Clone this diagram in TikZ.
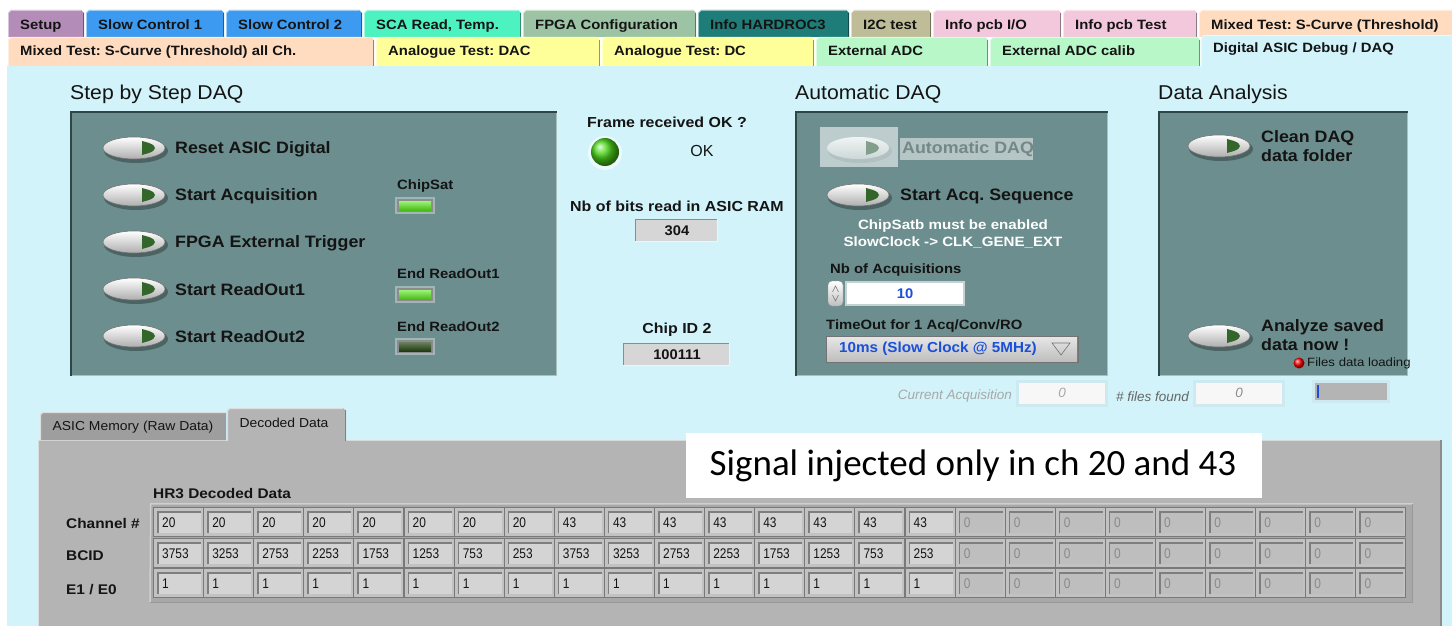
\documentclass[tikz,border=0pt]{standalone}
\usepackage{fontspec}
\setmainfont{Liberation Sans}
\newfontfamily\calib{Carlito}
\usetikzlibrary{shapes.geometric}
\frenchspacing
\definecolor{bgcyan}{HTML}{D2F3FA}
\definecolor{tabsetup}{HTML}{B48CB8}
\definecolor{tabslow}{HTML}{3C9BF0}
\definecolor{tabsca}{HTML}{4CF2C0}
\definecolor{tabfpga}{HTML}{9CC4A4}
\definecolor{tabinfo}{HTML}{1E7D78}
\definecolor{tabitc}{HTML}{BFBC98}
\definecolor{tabpcb}{HTML}{F4C8DC}
\definecolor{tabmixed}{HTML}{FFDCC0}
\definecolor{tabana}{HTML}{FFFF99}
\definecolor{tabadc}{HTML}{B8F8C8}
\definecolor{panelc}{HTML}{6C8E8E}
\definecolor{paneldark}{HTML}{2F4646}
\definecolor{panellight}{HTML}{A9BFBF}
\definecolor{txtdark}{HTML}{141414}
\definecolor{trigreen}{HTML}{33662A}
\definecolor{ledon}{HTML}{5CEB1E}
\definecolor{ledoff}{HTML}{2A4A18}
\definecolor{ledball}{HTML}{4CD81A}
\definecolor{boxgray}{HTML}{D6D6D6}
\definecolor{tabgray}{HTML}{B4B4B4}
\definecolor{framegray}{HTML}{A8A8A8}
\definecolor{cellfill}{HTML}{D4D4D4}
\definecolor{cellzero}{HTML}{BEBEBE}
\definecolor{celldark}{HTML}{7E7E7E}
\definecolor{zerotxt}{HTML}{8A8A8A}
\definecolor{blueval}{HTML}{1A4FD8}
\definecolor{greytxt}{HTML}{A8A8A8}
\newcommand\uitab[8]{% x1 x2 y1 y2 color name baseline text
  \fill[#5] (#1,#4) -- (#1,#3+3) -- (#1+3,#3) -- (#2-3,#3) -- (#2,#3+3) -- (#2,#4) -- cycle;
  \draw[#5!60!black, line width=0.8pt] (#2-0.5,#3+3) -- (#2-0.5,#4);
  \draw[white, opacity=0.5, line width=0.8pt] (#1+0.5,#4) -- (#1+0.5,#3+3) -- (#1+3,#3+0.5) -- (#2-3,#3+0.5);
  \node[tabtext] (#6) at (#1+12,#7) {#8};
}
\newcommand\insetbox[5]{%
  \fill[#5] (#1,#2) rectangle (#3,#4);
  \draw[black!45, line width=1.2pt] (#1+0.6,#4) -- (#1+0.6,#2+0.6) -- (#3,#2+0.6);
  \draw[white!70!#5, line width=1pt] (#1,#4-0.5) -- (#3-0.5,#4-0.5) -- (#3-0.5,#2);
}
\newcommand\uipanel[4]{%
  \fill[panelc] (#1,#2) rectangle (#3,#4);
  \draw[panellight, line width=1.5pt] (#1,#4-0.75) -- (#3-0.75,#4-0.75) -- (#3-0.75,#2);
  \draw[paneldark, line width=2pt] (#1+1,#4) -- (#1+1,#2+1) -- (#3,#2+1);
}
\tikzset{
  tabtext/.style={font=\fontsize{13.5}{15}\selectfont\bfseries, text=txtdark, inner sep=0pt, anchor=base west, xscale=1.1},
  title/.style={font=\fontsize{20}{22}\selectfont, text=txtdark, anchor=west, inner sep=0pt, xscale=1.06},
  btnlabel/.style={font=\fontsize{16.5}{19.5}\selectfont\bfseries, text=txtdark, anchor=west, inner sep=0pt, align=left, xscale=1.08},
  ledlabel/.style={font=\fontsize{13.5}{15}\selectfont\bfseries, text=txtdark, anchor=west, inner sep=0pt, xscale=1.1},
  midlabel/.style={font=\fontsize{14.5}{16}\selectfont\bfseries, text=txtdark, inner sep=0pt, xscale=1.1},
  valtext/.style={font=\fontsize{14}{16}\selectfont\bfseries, text=txtdark, inner sep=0pt, xscale=1.05},
  rowlabel/.style={font=\fontsize{14}{15}\selectfont\bfseries, text=txtdark, anchor=west, inner sep=0pt, xscale=1.1},
  celltext/.style={font=\fontsize{14}{16}\selectfont, anchor=west, inner sep=0pt, xscale=0.85},
  greyital/.style={font=\fontsize{13.5}{15}\selectfont\itshape, text=greytxt, inner sep=0pt},
  btnpic/.pic={
    \fill[black, opacity=0.3] (2,3) ellipse [x radius=32pt, y radius=12pt];
    \shade[top color=white, bottom color=black!32, draw=black!55, line width=0.6pt] (0,0) ellipse [x radius=31pt, y radius=11pt];
    \fill[trigreen] (8,-7) -- (8,7) -- (15,5) .. controls (23,2) and (23,-2) .. (15,-5) -- cycle;
  },
  btnoff/.pic={
    \fill[white!55!panelc] (-38,-21) rectangle (40,19);
    \fill[black, opacity=0.06] (2,3) ellipse [x radius=32pt, y radius=12pt];
    \shade[top color=white!90!panelc, bottom color=white!65!panelc] (0,0) ellipse [x radius=31pt, y radius=11pt];
    \fill[white!45!trigreen!60!panelc] (8,-7) -- (8,7) -- (15,5) .. controls (23,2) and (23,-2) .. (15,-5) -- cycle;
  },
  ledrect/.pic={
    \fill[white!35!panelc] (-2,-2) rectangle (38,15);
    \fill[black!45] (0,0) rectangle (36,13);
  }
}
\begin{document}
\begin{tikzpicture}[x=1pt,y=-1pt]
\useasboundingbox (0,0) rectangle (1452,626);
\fill[white] (0,0) rectangle (1452,626);
\fill[bgcyan] (7,66) rectangle (1452,626);

% ---------- tabs row 1
\uitab{8}{84}{10}{37}{tabsetup}{tSetup}{29.5}{Setup}
\uitab{86}{224}{10}{37}{tabslow}{tSC1}{29.5}{Slow Control 1}
\uitab{226}{362}{10}{37}{tabslow}{tSC2}{29.5}{Slow Control 2}
\uitab{364}{521}{10}{37}{tabsca}{tSCA}{29.5}{SCA Read, Temp.}
\uitab{523}{696}{10}{37}{tabfpga}{tFPGA}{29.5}{FPGA Configuration}
\uitab{698}{849}{10}{37}{tabinfo}{tInfo}{29.5}{Info HARDROC3}
\uitab{851}{931}{10}{37}{tabitc}{tIIC}{29.5}{I2C test}
\uitab{933}{1061}{10}{37}{tabpcb}{tPcbIO}{29.5}{Info pcb I/O}
\uitab{1063}{1197}{10}{37}{tabpcb}{tPcbT}{29.5}{Info pcb Test}
\uitab{1199}{1455}{10}{37}{tabmixed}{tMixed}{29.5}{Mixed Test: S-Curve (Threshold)}
% ---------- tabs row 2
\uitab{8}{374}{37}{66}{tabmixed}{tMixedAll}{56}{Mixed Test: S-Curve (Threshold) all Ch.}
\uitab{376}{600}{37}{66}{tabana}{tDAC}{56}{Analogue Test: DAC}
\uitab{602}{814}{37}{66}{tabana}{tDC}{56}{Analogue Test: DC}
\uitab{816}{988}{37}{66}{tabadc}{tADC}{56}{External ADC}
\uitab{990}{1200}{37}{66}{tabadc}{tADCc}{56}{External ADC calib}
\uitab{1201}{1455}{35}{67}{bgcyan}{tDig}{53}{Digital ASIC Debug / DAQ}

% ---------- Step by Step DAQ
\node[title] (ttlStep) at (70,94) {Step by Step DAQ};
\uipanel{70}{111}{557}{376}
\pic (bReset) at (134,148) {btnpic};
\pic (bStart) at (134,195) {btnpic};
\pic (bTrig) at (134,242) {btnpic};
\pic (bRO1) at (134,289) {btnpic};
\pic (bRO2) at (134,336) {btnpic};
\node[btnlabel] (lReset) at (175,149) {Reset ASIC Digital};
\node[btnlabel] (lStart) at (175,196) {Start Acquisition};
\node[btnlabel] (lTrig) at (175,243) {FPGA External Trigger};
\node[btnlabel] (lRO1) at (175,290) {Start ReadOut1};
\node[btnlabel] (lRO2) at (175,337) {Start ReadOut2};
\node[ledlabel] (lChipSat) at (397,186) {ChipSat};
\node[ledlabel] (lEnd1) at (397,274) {End ReadOut1};
\node[ledlabel] (lEnd2) at (397,327) {End ReadOut2};
\pic at (397,199) {ledrect};
\pic at (397,288) {ledrect};
\pic at (397,340) {ledrect};
\shade[top color=white!40!ledon, bottom color=ledon!80!black] (399,201) rectangle (431,210);
\shade[top color=white!40!ledon, bottom color=ledon!80!black] (399,290) rectangle (431,299);
\shade[top color=ledoff!70!white, bottom color=ledoff!80!black] (399,342) rectangle (431,351);

% ---------- middle indicators
\node[midlabel] (lFrame) at (667,122) {Frame received OK ?};
\fill[white!60!bgcyan] (605,153) circle [radius=17pt];
\shade[ball color=ledball] (605,152) circle [radius=14pt];
\node[font=\fontsize{16}{18}\selectfont, text=txtdark, inner sep=0pt] (lOK) at (702,151) {OK};
\node[midlabel] (lNbBits) at (677,206) {Nb of bits read in ASIC RAM};
\insetbox{635}{219}{718}{242}{boxgray}
\node[valtext] (vBits) at (677,231) {304};
\node[midlabel] (lChipID) at (677,330) {Chip ID 2};
\insetbox{623}{343}{730}{366}{boxgray}
\node[valtext] (vChipID) at (677,355) {100111};

% ---------- Automatic DAQ
\node[title] (ttlAuto) at (795,94) {Automatic DAQ};
\uipanel{795}{111}{1108}{376}
\pic (bAuto) at (858,148) {btnoff};
\fill[white!50!panelc] (900,138) rectangle (1033,160);
\node[btnlabel, text=white!25!panelc!80!black] (lAuto) at (902,149) {Automatic DAQ};
\pic (bSeq) at (858,195) {btnpic};
\node[btnlabel] (lSeq) at (900,196) {Start Acq. Sequence};
\node[font=\fontsize{13.5}{17}\selectfont\bfseries, text=white, align=center, inner sep=0pt, xscale=1.12] (lWarn) at (953,234) {ChipSatb must be enabled\\SlowClock -> CLK\_GENE\_EXT};
\node[ledlabel] (lNbAcq) at (830,270) {Nb of Acquisitions};
\shade[top color=white, bottom color=black!25, draw=black!40, rounded corners=4pt] (828,281) rectangle (843,306);
\draw[black!55, line width=0.5pt] (832.5,292) -- (835.5,286) -- (838.5,292);
\draw[black!55, line width=0.5pt] (832.5,295) -- (835.5,301) -- (838.5,295);
\fill[white!60!panelc] (845,281) rectangle (965,306);
\fill[white] (847,283) rectangle (963,304);
\node[valtext, text=blueval] (vNbAcq) at (905,294) {10};
\node[ledlabel] (lTimeOut) at (826,326) {TimeOut for 1 Acq/Conv/RO};
\fill[black!55] (826,336) rectangle (1079,363);
\shade[top color=black!10, bottom color=black!25] (827,337) rectangle (1077,361);
\node[font=\fontsize{14.5}{16}\selectfont\bfseries, text=blueval, anchor=west, inner sep=0pt, xscale=1.05] (vTimeOut) at (839,349) {10ms (Slow Clock @ 5MHz)};
\draw[black!55, line width=0.6pt] (1052,343) -- (1070,343) -- (1061,355) -- cycle;

% ---------- Data Analysis
\node[title] (ttlData) at (1158,94) {Data Analysis};
\uipanel{1158}{111}{1408}{376}
\pic (bClean) at (1219,146) {btnpic};
\node[btnlabel, align=left] (lClean) at (1261,146) {Clean DAQ\\data folder};
\pic (bAnalyze) at (1219,336) {btnpic};
\node[btnlabel, align=left] (lAnalyze) at (1261,335) {Analyze saved\\data now !};
\shade[ball color=red] (1299,363) circle [radius=5.5pt];
\node[font=\fontsize{12}{13}\selectfont, text=txtdark, anchor=west, inner sep=0pt, xscale=1.1] (lFiles) at (1307,363) {Files data loading};

% ---------- bottom status row
\node[greyital, anchor=east] (lCurAcq) at (1012,396) {Current Acquisition};
\fill[white!60!bgcyan!80!black!20!bgcyan] (1016,380) rectangle (1108,407);
\fill[black!3] (1019,383) rectangle (1105,404);
\node[greyital] (vCurAcq) at (1062,393) {0};
\node[greyital, anchor=east, text=black!60] (lFound) at (1189,397) {\# files found};
\fill[white!60!bgcyan!80!black!20!bgcyan] (1193,380) rectangle (1285,407);
\fill[black!3] (1196,383) rectangle (1282,404);
\node[greyital, text=black!45] (vFound) at (1239,393) {0};
\fill[white!60!bgcyan!80!black!20!bgcyan] (1312,380) rectangle (1390,403);
\fill[tabgray] (1315,383) rectangle (1387,400);
\fill[blueval] (1317,385) rectangle (1319,398);

% ---------- tab control
\fill[tabgray] (38,440) rectangle (1442,626);
\draw[black!45, line width=2pt] (1441,440) -- (1441,626);
\draw[white!50!tabgray, line width=1pt] (38.5,626) -- (38.5,440.5) -- (1440,440.5);
\fill[black!12!tabgray] (40,440) -- (40,415) -- (43,412) -- (226,412) -- (226,440) -- cycle;
\draw[white!55!tabgray, line width=1pt] (40.5,440) -- (40.5,415) -- (43,412.5) -- (226,412.5);
\node[font=\fontsize{13}{15}\selectfont, text=txtdark, inner sep=0pt, xscale=1.07] (tRaw) at (133,427) {ASIC Memory (Raw Data)};
\fill[tabgray] (227,442) -- (227,411) -- (230,408) -- (343,408) -- (346,411) -- (346,442) -- cycle;
\draw[white!55!tabgray, line width=1pt] (227.5,441) -- (227.5,411) -- (230,408.5) -- (343,408.5);
\draw[black!50, line width=1.2pt] (345.5,410) -- (345.5,441);
\node[font=\fontsize{13}{15}\selectfont, text=txtdark, inner sep=0pt, xscale=1.07] (tDec) at (284,423) {Decoded Data};

\fill[white] (686,433) rectangle (1262,498);
\node[font=\calib\fontsize{37}{40}\selectfont, text=black, inner sep=0pt] (note) at (973,466) {Signal injected only in ch 20 and 43};

\node[rowlabel] (lHR3) at (153,494) {HR3 Decoded Data};
\node[rowlabel] (lChan) at (66,523) {Channel \#};
\node[rowlabel] (lBCID) at (66,556) {BCID};
\node[rowlabel] (lE1E0) at (66,590) {E1 / E0};

\fill[framegray] (150,503) rectangle (1413,603);
\draw[white!45!framegray, line width=1.5pt] (150,602) -- (150.75,503.75) -- (1413,503.75);
\draw[black!40, line width=1pt] (150,602.5) -- (1412.5,602.5) -- (1412.5,504);

\foreach \r/\yy/\vals in {0/511/{20,20,20,20,20,20,20,20,43,43,43,43,43,43,43,43,0,0,0,0,0,0,0,0,0},
                         1/542/{3753,3253,2753,2253,1753,1253,753,253,3753,3253,2753,2253,1753,1253,753,253,0,0,0,0,0,0,0,0,0},
                         2/572/{1,1,1,1,1,1,1,1,1,1,1,1,1,1,1,1,0,0,0,0,0,0,0,0,0}} {
  \foreach \v [count=\i from 0] in \vals {
    \pgfmathsetmacro{\xx}{157+50.1*\i}
    \ifnum\i<16
      \def\cf{cellfill}\def\ct{txtdark}
    \else
      \def\cf{cellzero}\def\ct{zerotxt}
    \fi
    \fill[black!28!framegray] (\xx-4,\yy-4) rectangle (\xx+47,\yy+26);
    \fill[white!30!framegray] (\xx-3,\yy-3) rectangle (\xx+46,\yy+25);
    \fill[celldark] (\xx,\yy) rectangle (\xx+44,\yy+22);
    \fill[\cf] (\xx+1.5,\yy+1.5) rectangle (\xx+44,\yy+22);
    \node[celltext, text=\ct] (c\r-\i) at (\xx+5,\yy+11.5) {\v};
  }
}
\end{tikzpicture}
\end{document}
